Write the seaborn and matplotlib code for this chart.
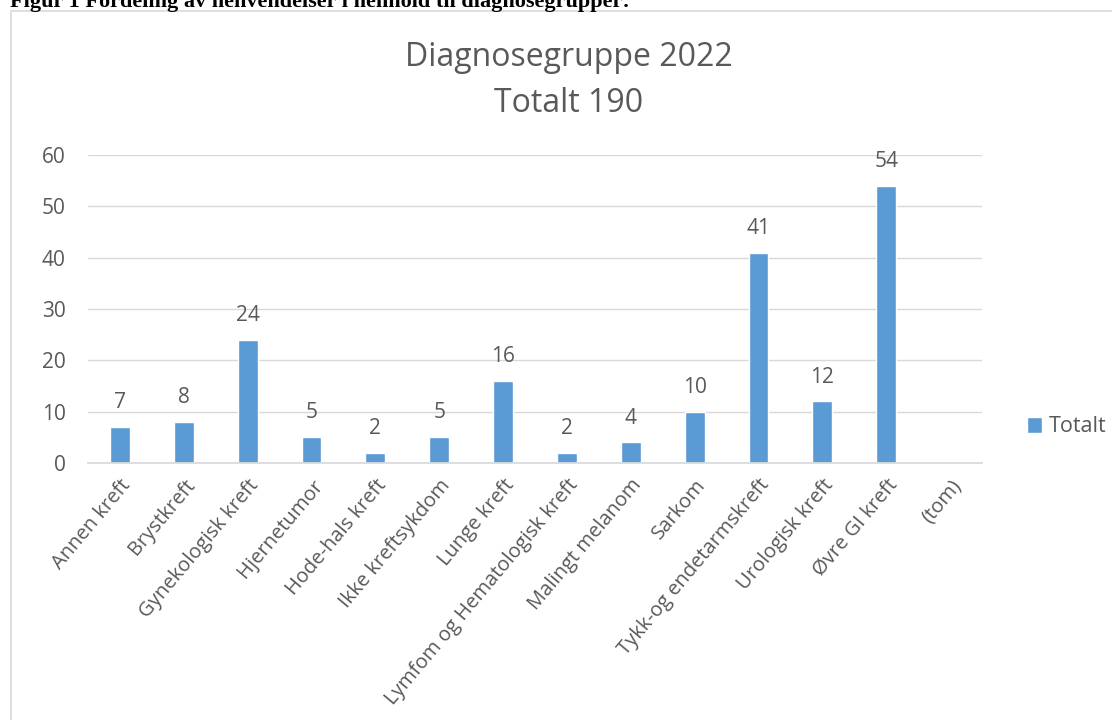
import matplotlib
matplotlib.use("Agg")
import matplotlib.pyplot as plt
import seaborn as sns
import pandas as pd
from matplotlib.patches import Rectangle

categories = ["Annen kreft", "Brystkreft", "Gynekologisk kreft", "Hjernetumor", "Hode-hals kreft",
              "Ikke kreftsykdom", "Lunge kreft", "Lymfom og Hematologisk kreft", "Malingt melanom",
              "Sarkom", "Tykk-og endetarmskreft", "Urologisk kreft", "Øvre GI kreft", "(tom)"]
values = [7, 8, 24, 5, 2, 5, 16, 2, 4, 10, 41, 12, 54, None]
yticks = [0, 10, 20, 30, 40, 50, 60]

sns.set_theme(style="white")
plt.rcParams['font.family'] = ['Open Sans', 'DejaVu Sans']

TXT = "#595959"
BAR = "#5B9BD5"
GRID = "#D9D9D9"

df = pd.DataFrame({"Diagnose": categories, "Totalt": values}).dropna()

fig = plt.figure(figsize=(11.12, 7.2), dpi=100)
ax = fig.add_axes([88/1112, 1-463/720, (982-88)/1112, (463-155)/720])

sns.barplot(data=df, x="Diagnose", y="Totalt", order=categories, color=BAR,
            width=0.31, ax=ax, label="Totalt", saturation=1)

ax.set_ylim(0, 60)
ax.set_yticks(yticks)
ax.set_xlim(-0.5, len(categories)-0.5)
ax.grid(axis="y", color=GRID, linewidth=1)
ax.set_axisbelow(True)
for s in ["top", "right", "left"]:
    ax.spines[s].set_visible(False)
ax.spines["bottom"].set_color(GRID)
ax.set_xlabel("")
ax.set_ylabel("")
ax.tick_params(axis="y", colors=TXT, labelsize=15, length=0, pad=16)
ax.tick_params(axis="x", colors=TXT, labelsize=14.5, length=0, pad=9)
plt.setp(ax.get_xticklabels(), rotation=50, ha="right", rotation_mode="anchor")

for c in ax.containers:
    ax.bar_label(c, fmt="%g", color=TXT, fontsize=15, padding=10)

leg = ax.get_legend()
if leg:
    leg.remove()
fig.legend(handles=ax.containers[0:1], labels=["Totalt"], loc="center left",
           bbox_to_anchor=(1008/1112, 1-427/720), frameon=False, fontsize=15.5,
           labelcolor=TXT, handlelength=0.7, handleheight=0.7, handletextpad=0.3)

fig.text(569/1112, 1-57/720, "Diagnosegruppe 2022", ha="center", va="center", fontsize=23, color=TXT)
fig.text(569/1112, 1-103/720, "Totalt 190", ha="center", va="center", fontsize=23, color=TXT)

fig.patches.append(Rectangle((11/1112, -0.01), 1.2, 1-11/720+0.01, transform=fig.transFigure,
                             fill=False, edgecolor=GRID, linewidth=1.2))
fig.text(10/1112, 1-7/720, "Figur 1 Fordeling av henvendelser i henhold til diagnosegrupper:",
         ha="left", va="baseline", fontsize=16, fontweight="bold", family="Liberation Serif", color="black")

fig.savefig("out.png", dpi=100)
